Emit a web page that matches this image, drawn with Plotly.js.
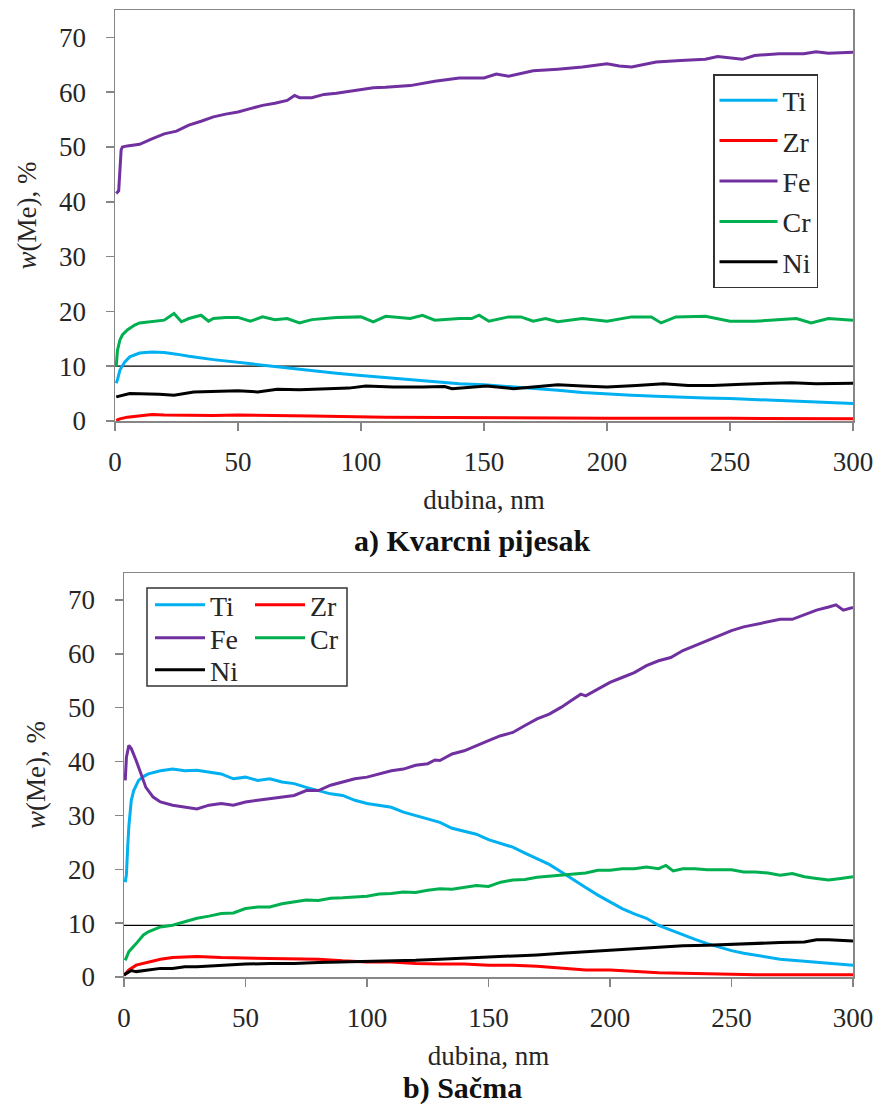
<!DOCTYPE html>
<html>
<head>
<meta charset="utf-8">
<script src="https://cdn.plot.ly/plotly-3.0.1.min.js"></script>
<style>
  html, body { margin: 0; padding: 0; background: #fff; }
  #chart { width: 877px; height: 1104px; }
</style>
</head>
<body>
<div id="chart"></div>
<script>
// ---------- DATA ----------
const seriesNames = ['Ti', 'Zr', 'Fe', 'Cr', 'Ni'];
const seriesColors = ['#00B0F0', '#FF0000', '#7030A0', '#00B050', '#000000'];
const xTickVals = [0, 50, 100, 150, 200, 250, 300];
const yTickVals = [0, 10, 20, 30, 40, 50, 60, 70];
const refLineTop = 10;
const refLineBottom = 9.6;

// a) Kvarcni pijesak
const aTi_x = [0.5,1,2,3,4,6,8,10,15,20,25,30,40,50,60,70,80,90,100,110,120,130,140,150,160,170,180,190,200,210,220,230,240,250,260,270,280,290,300];
const aTi_y = [6.9,7.5,9.3,10.2,10.8,11.7,12.1,12.4,12.6,12.5,12.2,11.8,11.2,10.7,10.1,9.6,9.2,8.7,8.3,7.9,7.5,7.1,6.8,6.6,6.3,6.0,5.6,5.2,4.9,4.7,4.5,4.3,4.2,4.1,3.9,3.8,3.6,3.3,3.2];
const aZr_x = [0.5,2,5,10,15,20,30,40,50,60,80,110,150,200,250,300];
const aZr_y = [0.1,0.4,0.7,1.0,1.2,1.1,1.0,1.0,1.1,1.0,0.9,0.7,0.6,0.5,0.5,0.4];
const aFe_x = [0.5,1.5,2.5,3,5,10,15,20,25,30,35,40,45,50,55,60,65,70,73,75,80,85,90,100,105,110,120,130,135,140,150,155,160,170,180,190,200,205,210,215,220,230,240,245,250,255,260,270,280,285,290,300];
const aFe_y = [41.5,42,49.5,50.0,50.2,50.5,51.5,52.4,52.9,54.0,54.7,55.5,56.0,56.4,57.0,57.6,58.0,58.5,59.4,59.0,59.0,59.6,59.8,60.4,60.8,60.9,61.2,62.0,62.3,62.6,62.6,63.3,62.9,63.9,64.2,64.6,65.2,64.8,64.6,65.1,65.5,65.8,66.0,66.5,66.3,66.0,66.7,67.0,67.0,67.4,67.1,67.3];
const aCr_x = [0.5,1,2,3,5,8,10,15,20,24,27,30,35,38,40,45,50,55,60,65,70,75,80,90,100,105,110,120,125,130,140,145,148,152,160,165,170,175,180,190,200,210,218,222,228,240,250,260,270,277,283,290,300];
const aCr_y = [9.9,12.9,14.8,15.7,16.6,17.5,17.9,18.1,18.4,19.6,18.1,18.7,19.3,18.2,18.7,18.9,18.9,18.2,19.0,18.5,18.7,17.9,18.5,18.9,19.0,18.1,19.1,18.7,19.3,18.4,18.7,18.7,19.3,18.2,19.0,19.0,18.2,18.7,18.1,18.7,18.2,19.0,19.0,17.9,19.0,19.1,18.2,18.2,18.5,18.7,17.9,18.7,18.4];
const aNi_x = [0.5,6,18,24,32,40,50,58,66,75,86,95,102,113,125,134,137,151,162,170,180,190,200,212,223,233,243,255,265,275,285,300];
const aNi_y = [4.4,5.0,4.9,4.7,5.3,5.4,5.5,5.3,5.8,5.7,5.8,6.0,6.4,6.2,6.2,6.3,5.9,6.4,5.9,6.2,6.6,6.4,6.2,6.5,6.8,6.5,6.5,6.7,6.9,7.0,6.8,6.9];

// b) Sačma
const bTi_x = [0.5,1,1.5,2,3,4,6,8,10,15,20,25,30,35,40,45,50,55,60,65,70,75,80,85,90,95,100,105,110,115,120,125,130,135,140,145,150,155,160,165,170,175,180,185,190,195,200,205,210,215,220,225,230,235,240,245,250,255,260,265,270,275,280,285,290,295,300];
const bTi_y = [17.6,19,24,28,32.8,34.6,36.5,37.2,37.7,38.3,38.6,38.3,38.4,38.0,37.7,36.8,37.1,36.5,36.8,36.2,35.9,35.2,34.6,34.0,33.7,32.8,32.2,31.9,31.5,30.6,30.0,29.4,28.7,27.6,27.0,26.5,25.5,24.8,24.1,23.0,22.0,20.9,19.5,18.0,16.6,15.2,13.9,12.7,11.7,10.9,9.6,8.7,7.8,7.0,6.2,5.5,4.9,4.4,4.0,3.6,3.3,3.1,2.9,2.7,2.5,2.3,2.2];
const bZr_x = [0,2,5,10,15,20,30,40,50,60,70,80,90,100,110,120,130,140,150,160,170,180,190,200,210,220,230,240,250,260,280,300];
const bZr_y = [0.3,1.3,2.2,2.8,3.3,3.6,3.8,3.6,3.5,3.5,3.3,3.3,3.0,2.8,2.8,2.5,2.4,2.4,2.2,2.2,2.0,1.6,1.3,1.3,1.0,0.8,0.7,0.6,0.6,0.4,0.4,0.4];
const bFe_x = [0.5,1,2,3,5,7,9,12,15,20,25,30,35,40,45,50,55,60,65,70,75,80,85,90,95,100,105,110,115,120,125,128,130,135,140,145,150,155,160,165,170,175,180,185,188,190,195,200,205,210,215,220,225,230,235,240,245,250,255,260,265,270,275,280,285,290,293,296,300];
const bFe_y = [36.5,40.8,43.0,42.4,40.2,37.7,35.2,33.4,32.5,31.9,31.5,31.2,31.9,32.2,31.9,32.5,32.8,33.1,33.4,33.7,34.6,34.6,35.6,36.2,36.8,37.1,37.7,38.3,38.6,39.3,39.6,40.3,40.2,41.4,42.0,43.0,43.9,44.8,45.4,46.7,47.9,48.8,50.1,51.6,52.5,52.2,53.5,54.7,55.6,56.5,57.8,58.7,59.3,60.6,61.5,62.4,63.3,64.3,65.0,65.5,66.0,66.4,66.4,67.3,68.1,68.7,69.1,68.1,68.6];
const bCr_x = [0.5,2,5,8,10,15,20,25,30,35,40,45,50,55,60,65,70,75,80,85,90,95,100,105,110,115,120,125,130,135,140,145,150,155,160,165,170,175,180,185,190,195,200,205,210,215,220,223,226,230,235,240,245,250,255,260,265,270,275,280,285,290,295,300];
const bCr_y = [3.1,4.7,6.2,7.8,8.4,9.3,9.6,10.2,10.9,11.3,11.8,11.9,12.7,13.0,13.0,13.6,13.9,14.3,14.2,14.6,14.7,14.9,15.0,15.4,15.5,15.8,15.7,16.1,16.4,16.3,16.6,17.0,16.8,17.6,18.0,18.1,18.5,18.7,18.9,19.2,19.3,19.8,19.8,20.1,20.1,20.4,20.1,20.7,19.7,20.1,20.1,19.9,19.9,19.9,19.5,19.5,19.3,18.9,19.2,18.6,18.3,18.0,18.3,18.6];
const bNi_x = [0,3,5,10,15,20,25,30,40,50,60,70,80,90,100,110,120,130,140,150,160,170,180,190,200,210,220,230,240,250,260,270,280,285,290,300];
const bNi_y = [0.4,1.2,1.0,1.3,1.6,1.6,1.9,1.9,2.2,2.4,2.5,2.5,2.7,2.8,2.8,3.0,3.1,3.3,3.5,3.6,3.9,4.1,4.4,4.7,5.0,5.3,5.6,5.8,5.9,6.1,6.2,6.4,6.5,6.9,6.9,6.7];

const xTitle = 'dubina, nm';
const yTitle = '<i>w</i>(Me), %';
const captionA = '<b>a) Kvarcni pijesak</b>';
const captionB = '<b>b) Sačma</b>';

// ---------- LAYOUT HELPERS ----------
const W = 877, H = 1104;
const fx = p => p / W;
const fy = p => 1 - p / H;
const FONT = 'Liberation Serif';
const TXT = '#262626';
const AXC = '#868686';

const topData = [[aTi_x, aTi_y], [aZr_x, aZr_y], [aFe_x, aFe_y], [aCr_x, aCr_y], [aNi_x, aNi_y]];
const botData = [[bTi_x, bTi_y], [bZr_x, bZr_y], [bFe_x, bFe_y], [bCr_x, bCr_y], [bNi_x, bNi_y]];
const botLegendIds = ['legend2', 'legend3', 'legend4', 'legend5', 'legend6'];

const traces = [];
topData.forEach((d, i) => {
  traces.push({
    type: 'scatter', mode: 'lines', x: d[0], y: d[1], name: seriesNames[i],
    xaxis: 'x', yaxis: 'y', legend: 'legend', legendgroup: 'a' + i,
    line: { color: seriesColors[i], width: 3 }
  });
});
botData.forEach((d, i) => {
  traces.push({
    type: 'scatter', mode: 'lines', x: d[0], y: d[1], name: seriesNames[i],
    xaxis: 'x2', yaxis: 'y2', legend: botLegendIds[i],
    line: { color: seriesColors[i], width: 3 }
  });
});

function xAxis(domain, anchor) {
  return {
    domain: domain, anchor: anchor, range: [0, 300], tickmode: 'array', tickvals: xTickVals,
    ticks: 'outside', ticklen: 8, tickwidth: 1.5, tickcolor: AXC,
    showline: true, linecolor: AXC, linewidth: 1.5, mirror: true,
    showgrid: false, zeroline: false, ticklabelstandoff: 8,
    tickfont: { family: FONT, size: 27, color: TXT },
    title: { text: xTitle, font: { family: FONT, size: 27, color: TXT }, standoff: 14 }
  };
}
function yAxis(domain, anchor) {
  return {
    domain: domain, anchor: anchor, range: [0, 75], tickmode: 'array', tickvals: yTickVals,
    ticks: 'outside', ticklen: 8, tickwidth: 1.5, tickcolor: AXC,
    showline: true, linecolor: AXC, linewidth: 1.5, mirror: true,
    showgrid: false, zeroline: false, ticklabelstandoff: 14,
    tickfont: { family: FONT, size: 27, color: TXT },
    title: { text: yTitle, font: { family: FONT, size: 27, color: TXT }, standoff: 14 }
  };
}

const legFont = { family: FONT, size: 28, color: TXT };
function rowLegend(xp, yp) {
  return { x: fx(xp), xanchor: 'left', y: fy(yp), yanchor: 'middle', bgcolor: 'rgba(0,0,0,0)',
           borderwidth: 0, font: legFont, itemwidth: 50 };
}

const layout = {
  width: W, height: H,
  margin: { l: 0, r: 0, t: 0, b: 0 },
  paper_bgcolor: '#fff', plot_bgcolor: '#fff',
  font: { family: FONT, color: TXT },
  showlegend: true,
  xaxis: xAxis([fx(115), fx(853)], 'y'),
  yaxis: yAxis([fy(421), fy(10)], 'x'),
  xaxis2: xAxis([fx(124), fx(853)], 'y2'),
  yaxis2: yAxis([fy(977), fy(573)], 'x2'),
  legend: { x: fx(713), xanchor: 'left', y: fy(74), yanchor: 'top', bgcolor: '#fff',
            bordercolor: '#333', borderwidth: 1.5, font: legFont, itemwidth: 58,
            tracegroupgap: 1, traceorder: 'grouped' },
  legend2: rowLegend(150, 605),
  legend3: rowLegend(250, 605),
  legend4: rowLegend(150, 638),
  legend5: rowLegend(250, 638),
  legend6: rowLegend(150, 670),
  shapes: [
    { type: 'line', xref: 'x', yref: 'y', x0: 0, x1: 300, y0: refLineTop, y1: refLineTop,
      line: { color: '#000', width: 1.2 }, layer: 'below' },
    { type: 'line', xref: 'x2', yref: 'y2', x0: 0, x1: 300, y0: refLineBottom, y1: refLineBottom,
      line: { color: '#000', width: 1.2 }, layer: 'below' },
    { type: 'rect', xref: 'paper', yref: 'paper', x0: fx(147), x1: fx(347), y0: fy(686), y1: fy(588),
      line: { color: '#333', width: 1.5 }, fillcolor: 'rgba(0,0,0,0)', layer: 'above' }
  ],
  annotations: [
    { text: captionA, xref: 'paper', yref: 'paper', x: fx(472), y: fy(541), xanchor: 'center', yanchor: 'middle',
      showarrow: false, font: { family: FONT, size: 30, color: '#111' } },
    { text: captionB, xref: 'paper', yref: 'paper', x: fx(462), y: fy(1088), xanchor: 'center', yanchor: 'middle',
      showarrow: false, font: { family: FONT, size: 30, color: '#111' } }
  ]
};

Plotly.newPlot('chart', traces, layout, { staticPlot: true, displayModeBar: false });
</script>
</body>
</html>
